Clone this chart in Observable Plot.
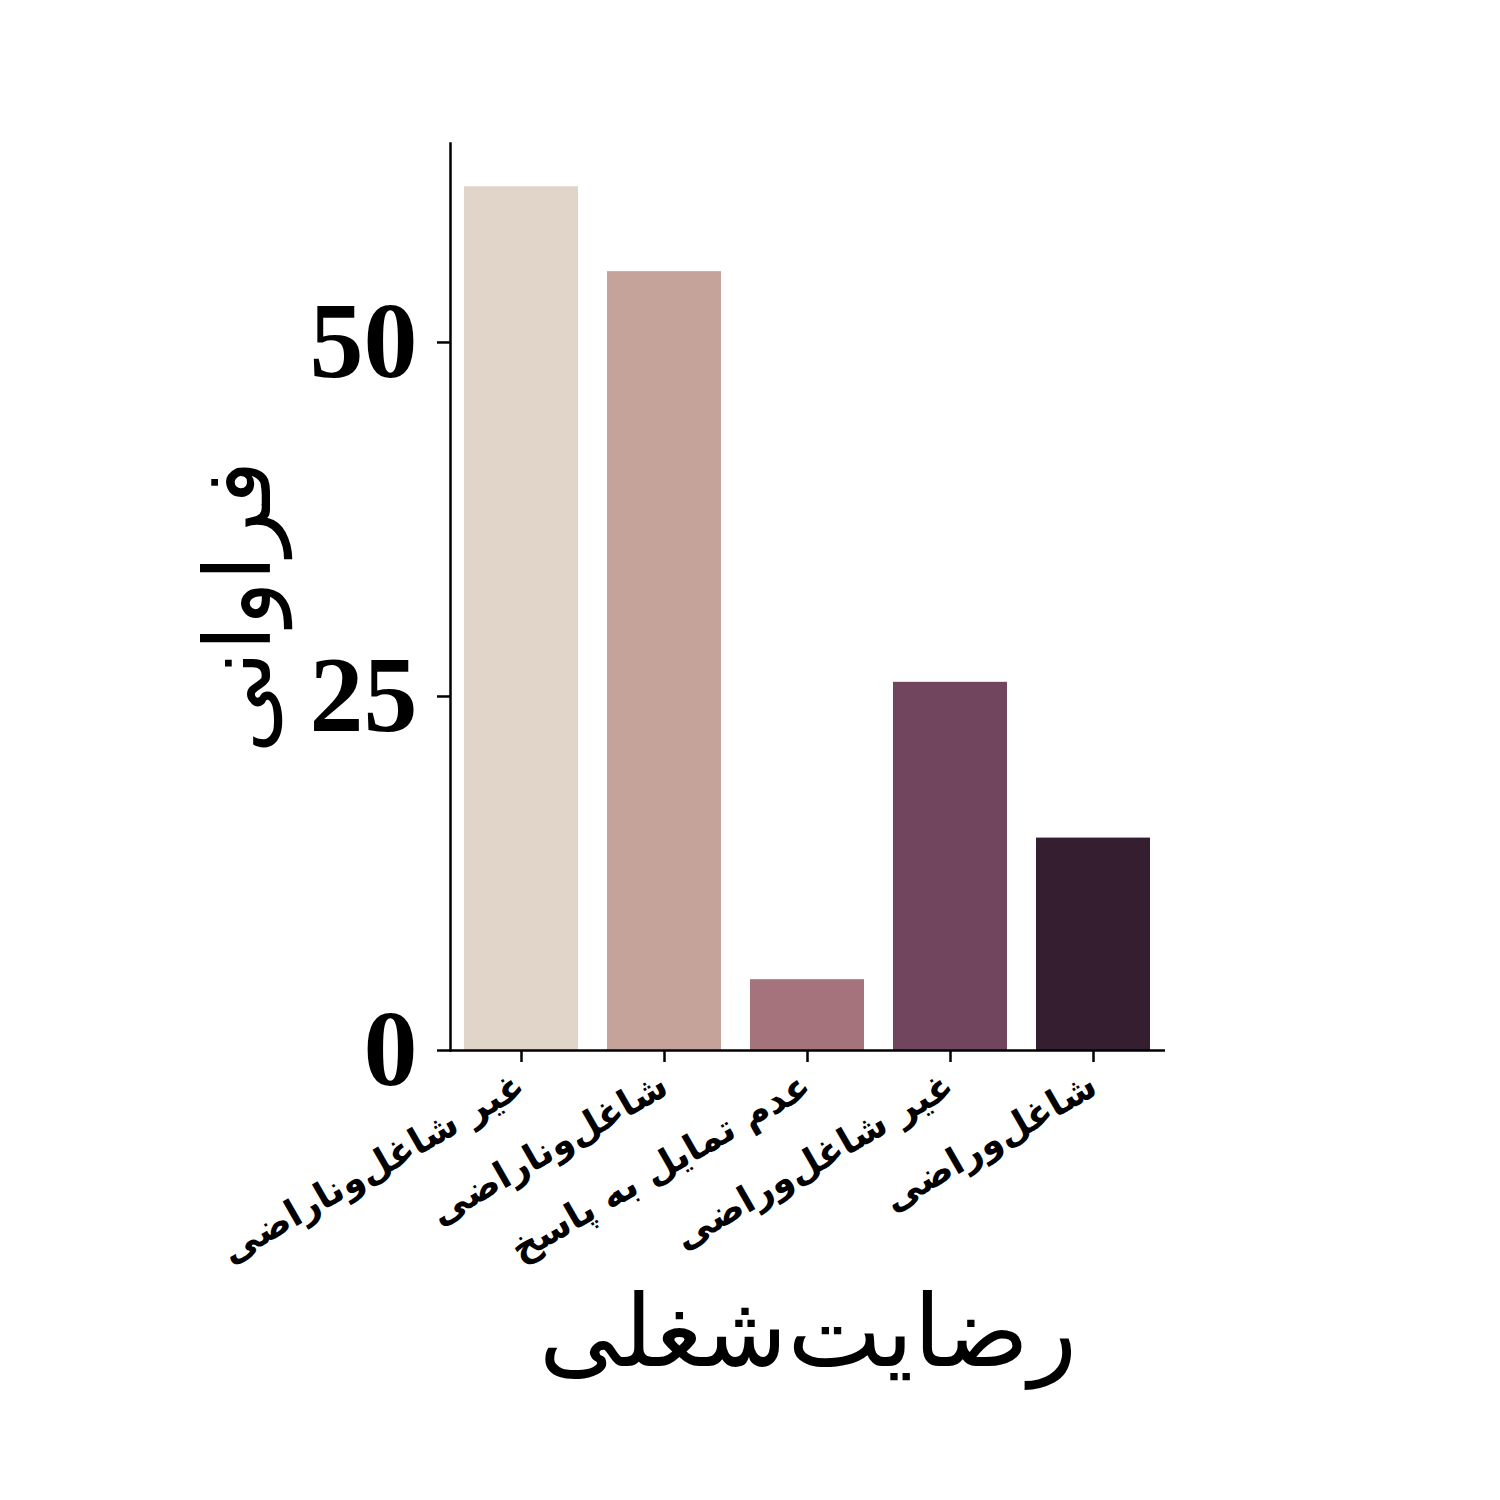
<!DOCTYPE html>
<html>
<head>
<meta charset="utf-8">
<script src="https://cdn.jsdelivr.net/npm/d3@7"></script>
<script src="https://cdn.jsdelivr.net/npm/@observablehq/plot@0.6"></script>
<style>
  body { margin: 0; background: #fff; }
</style>
</head>
<body>
<div id="chart"></div>
<script>
const categories = ["غیر شاغل‌وناراضی", "شاغل‌وناراضی", "عدم تمایل به پاسخ", "غیر شاغل‌وراضی", "شاغل‌وراضی"];
const counts = [61, 55, 5, 26, 15];
const colors = ["#e0d5c8", "#c5a39a", "#a5737b", "#72455e", "#351e30"];
const yTicks = [0, 25, 50];
const xTitle = "رضایت‌شغلی";
const yTitle = "فراوانی";

const data = categories.map((c, i) => ({category: c, count: counts[i]}));

const chart = Plot.plot({
  width: 1500,
  height: 1500,
  marginLeft: 450,
  marginRight: 335,
  marginTop: 143,
  marginBottom: 450,
  style: {fontFamily: "'Liberation Serif', 'DejaVu Sans', serif", background: "#fff", color: "#000"},
  x: {domain: categories, paddingInner: 0.2, paddingOuter: 0.1, label: null},
  y: {domain: [0, 64.05], label: null},
  color: {domain: categories, range: colors},
  marks: [
    Plot.barY(data, {x: "category", y: "count", fill: "category"}),
    Plot.frame({anchor: "left", strokeWidth: 2.5}),
    Plot.ruleY([0], {strokeWidth: 2.5}),
    Plot.axisY({ticks: yTicks, tickSize: 13, tickPadding: 20, tickFormat: d => String(d), fontSize: 108, fontWeight: "bold", strokeWidth: 2.5, label: null}),
    Plot.axisX({tickSize: 12, tickRotate: -30, tickPadding: 20, fontSize: 37, fontWeight: "bold", fontFamily: "'DejaVu Sans', sans-serif", strokeWidth: 2.5, label: null}),
    Plot.text([yTitle], {frameAnchor: "left", textAnchor: "middle", dx: -210, dy: 10, rotate: -90, fontSize: 92, fontFamily: "'DejaVu Sans', sans-serif"}),
    Plot.text([xTitle], {frameAnchor: "bottom", textAnchor: "middle", dy: 315, fontSize: 100, fontFamily: "'DejaVu Sans', sans-serif"})
  ]
});
document.getElementById("chart").appendChild(chart);
</script>
</body>
</html>
